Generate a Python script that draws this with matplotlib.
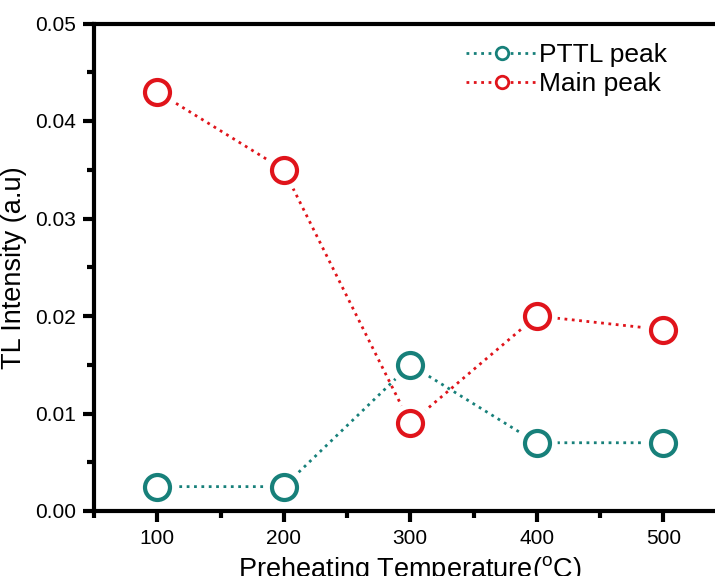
import matplotlib
matplotlib.use("Agg")
import matplotlib.pyplot as plt
from matplotlib.ticker import MultipleLocator

plt.rcParams['font.family'] = ['Liberation Sans', 'DejaVu Sans']
plt.rcParams['mathtext.fontset'] = 'custom'
plt.rcParams['mathtext.rm'] = 'Liberation Sans'

temps = [100, 200, 300, 400, 500]
pttl = [0.0025, 0.0025, 0.015, 0.007, 0.007]
main_peak = [0.043, 0.035, 0.009, 0.020, 0.0186]

teal = '#17807a'
red = '#e0141b'

fig = plt.figure(figsize=(7.15, 5.76), dpi=100)
W, H = 715, 576
# axes frame runs past the right edge like the cropped original
ax = fig.add_axes([94 / W, (576 - 511) / H, 632.5 / W, 487.5 / H])

for ys, c, lab in [(pttl, teal, 'PTTL peak'), (main_peak, red, 'Main peak')]:
    ax.plot(temps, ys, ls=':', lw=2, color=c, zorder=2)
    # white halo so the dotted line stops short of the circles
    ax.plot(temps, ys, ls='none', marker='o', ms=29, mfc='white', mec='none', zorder=3)
    ax.plot(temps, ys, ls='none', marker='o', ms=18, mfc='white', mec=c, mew=3, zorder=4)
    ax.plot([], [], ls=':', lw=2, color=c, marker='o', ms=9, mfc='white', mec=c,
            mew=2, label=lab)

ax.set_xlim(50, 550)
ax.set_ylim(0, 0.05)
ax.xaxis.set_major_locator(MultipleLocator(100))
ax.xaxis.set_minor_locator(MultipleLocator(50))
ax.yaxis.set_major_locator(MultipleLocator(0.01))
ax.yaxis.set_minor_locator(MultipleLocator(0.005))
ax.yaxis.set_major_formatter(plt.FormatStrFormatter('%.2f'))

for s in ax.spines.values():
    s.set_linewidth(3)
ax.tick_params(which='major', direction='out', length=8, width=3, labelsize=15, pad=5)
ax.tick_params(which='minor', direction='out', length=5, width=3)

ax.set_xlabel('Preheating Temperature($^{\\rm o}$C)', fontsize=19.5, labelpad=4)
ax.set_ylabel('TL Intensity (a.u)', fontsize=19.5, labelpad=6)

ax.legend(loc='upper right', bbox_to_anchor=(0.937, 1.0), frameon=False, fontsize=19,
          handlelength=2.7, handletextpad=0.05, labelspacing=0.17, borderaxespad=0.35)

fig.savefig('out.png', dpi=100)
